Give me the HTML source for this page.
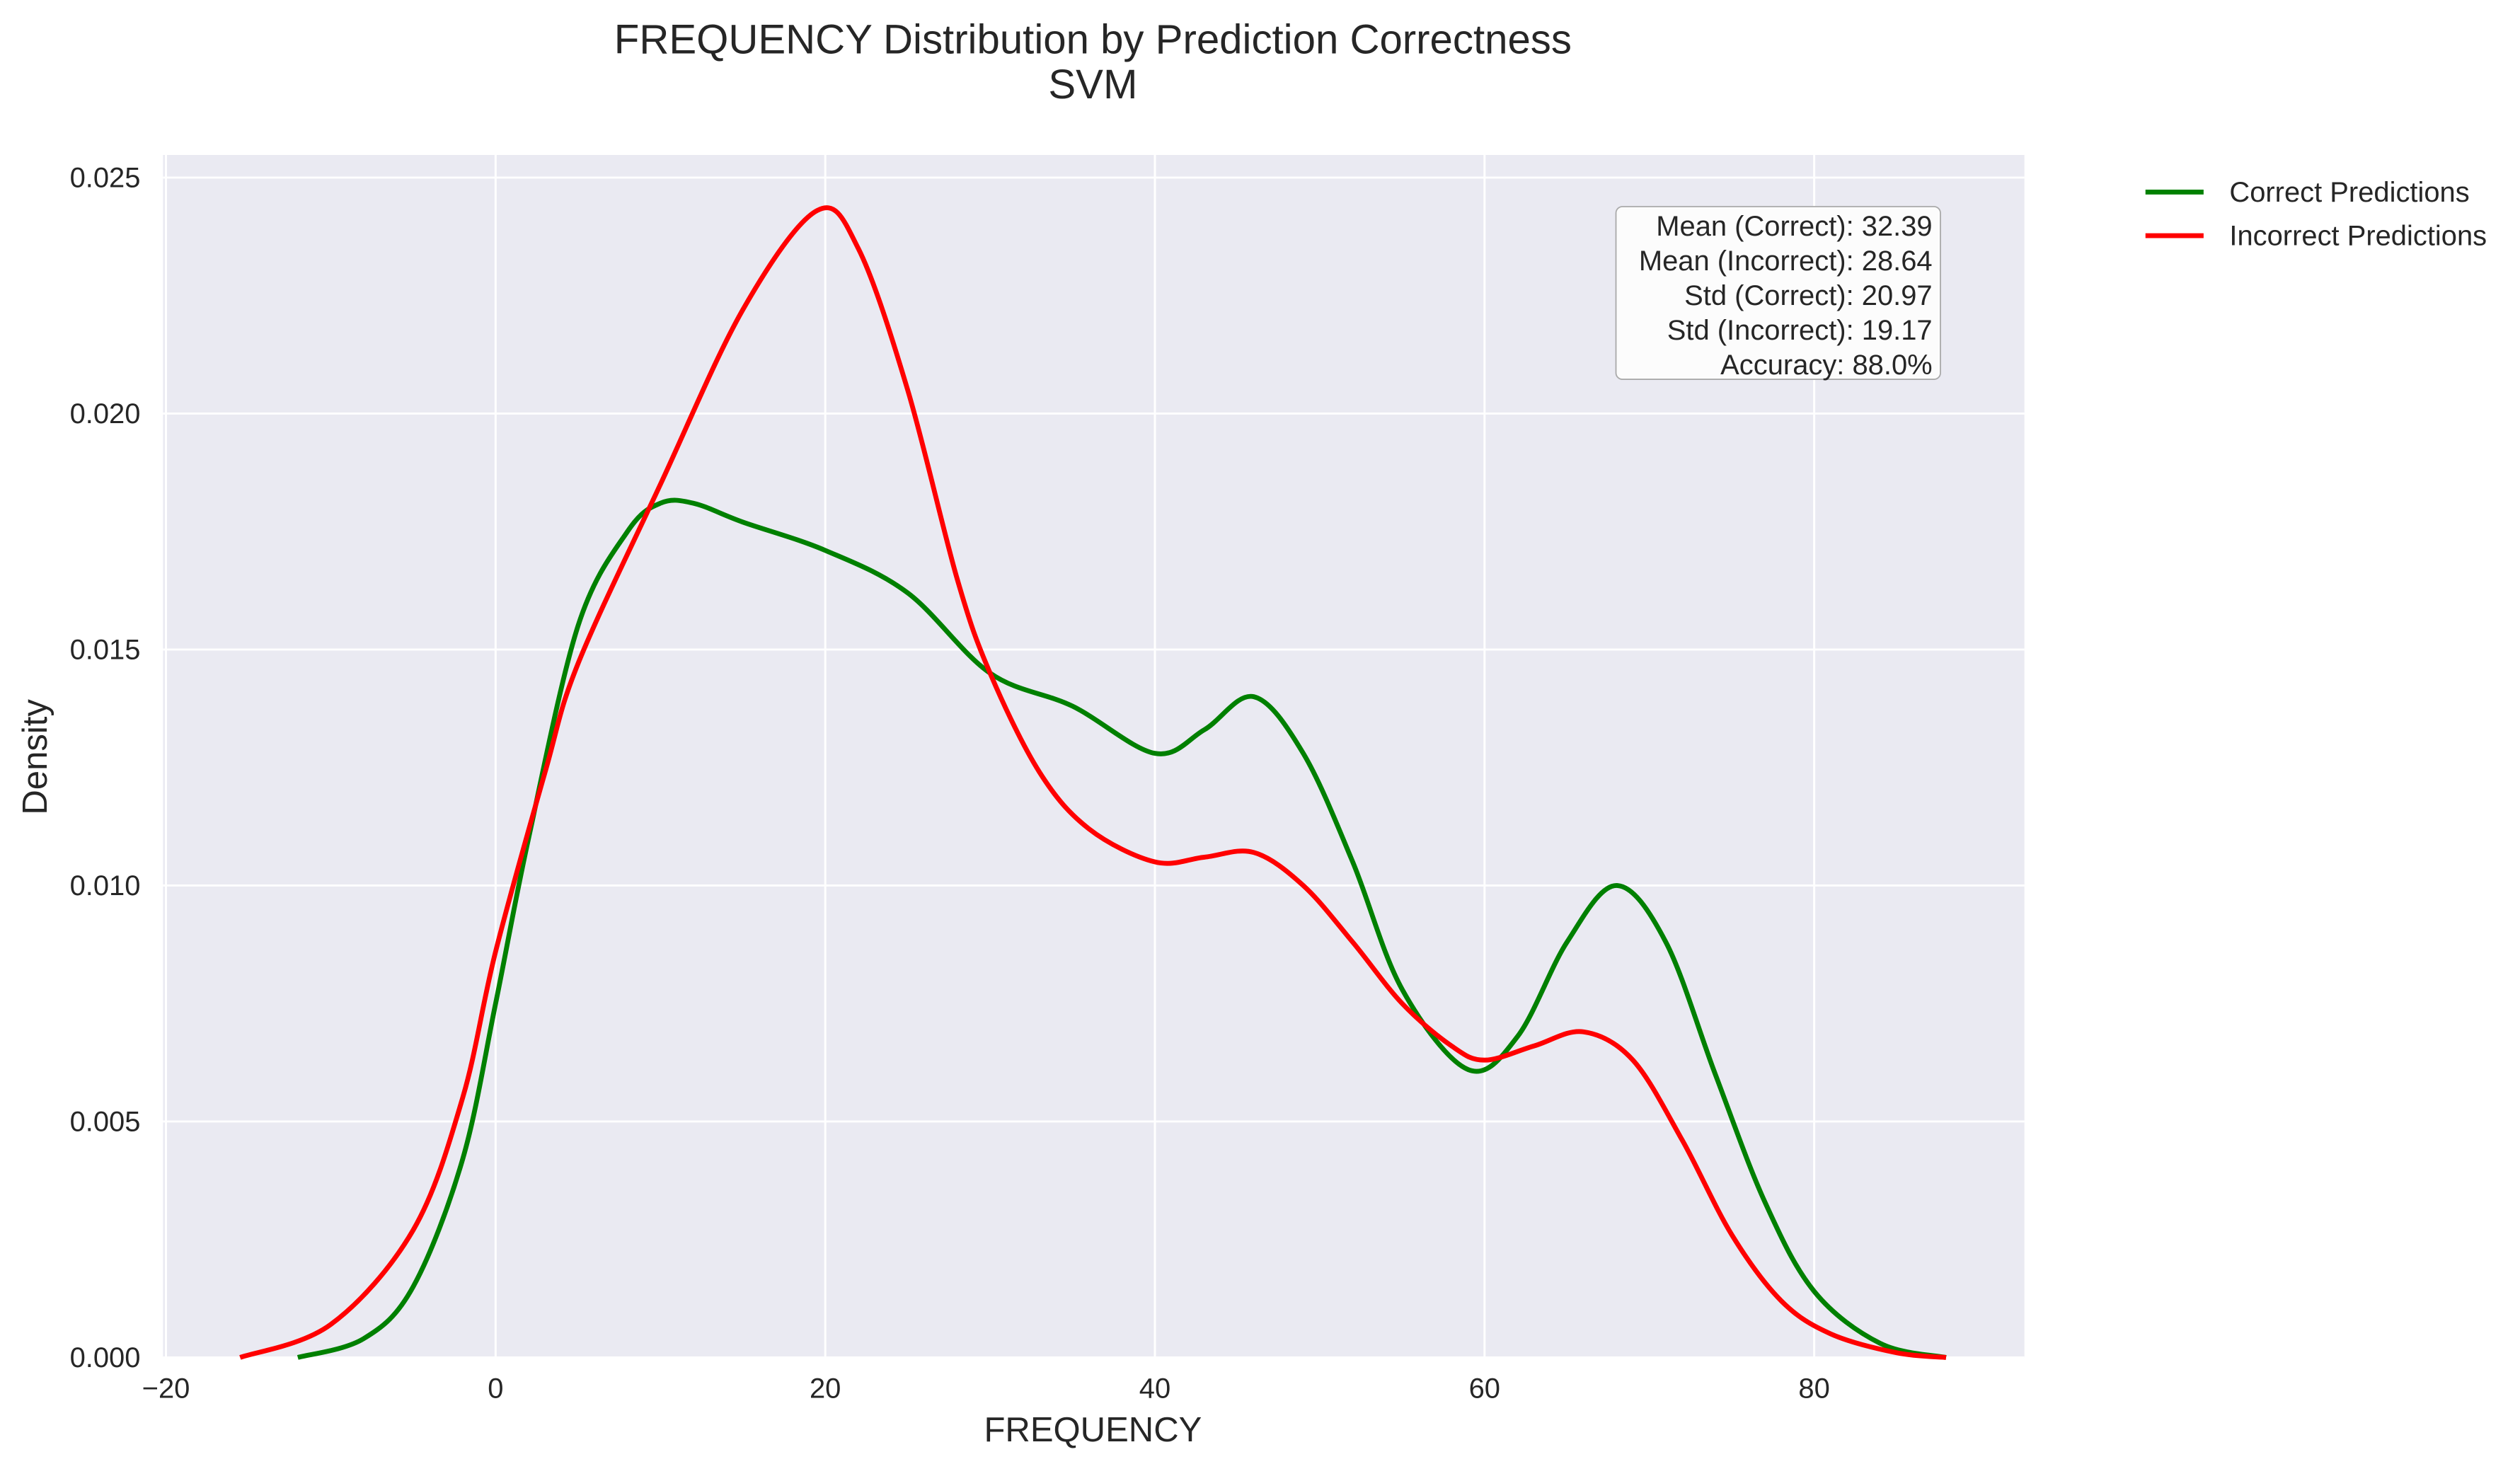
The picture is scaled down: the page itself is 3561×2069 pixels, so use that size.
<!DOCTYPE html>
<html><head><meta charset="utf-8"><style>
html,body{margin:0;padding:0;background:#fff;}
svg{display:block;font-family:"Liberation Sans",sans-serif;}
</style></head><body>
<svg id="chart" width="3561" height="2069" viewBox="0 0 1561 907" preserveAspectRatio="none" xmlns="http://www.w3.org/2000/svg">
<rect x="101" y="96" width="1153" height="745" fill="#eaeaf2"/>
<g id="grid"></g>
<g id="ticks"></g>
<g id="curves"></g>
<text x="677" y="33" font-size="25.5" text-anchor="middle" fill="#262626">FREQUENCY Distribution by Prediction Correctness</text>
<text x="677" y="61" font-size="25.5" text-anchor="middle" fill="#262626">SVM</text>
<text x="677" y="893" font-size="21.5" text-anchor="middle" fill="#262626">FREQUENCY</text>
<text transform="translate(29,469) rotate(-90)" font-size="21.5" text-anchor="middle" fill="#262626">Density</text>
<g>
<rect x="1001" y="128" width="201" height="107" rx="4" fill="#fcfcfc" stroke="#aaa" stroke-width="0.8"/>
<g font-size="17.5" text-anchor="end" fill="#262626">
<text x="1197" y="146">Mean (Correct): 32.39</text>
<text x="1197" y="167.5">Mean (Incorrect): 28.64</text>
<text x="1197" y="189">Std (Correct): 20.97</text>
<text x="1197" y="210.5">Std (Incorrect): 19.17</text>
<text x="1197" y="232">Accuracy: 88.0%</text>
</g></g>
<g>
<g><line x1="1329" y1="119" x2="1365" y2="119" stroke="#008000" stroke-width="3"/><text x="1381" y="125" font-size="17.5" fill="#262626">Correct Predictions</text></g>
<g><line x1="1329" y1="146" x2="1365" y2="146" stroke="#ff0000" stroke-width="3"/><text x="1381" y="152" font-size="17.5" fill="#262626">Incorrect Predictions</text></g>
</g>
</svg>
<script>
const xTicks = [-20, 0, 20, 40, 60, 80];
const yTicks = [0, 0.005, 0.010, 0.015, 0.020, 0.025];
const yTickLabels = ["0.000","0.005","0.010","0.015","0.020","0.025"];
const correctX = [-12,-8,-5,-2,0,2,5,8,10,12,15,20,25,30,35,40,43,46,49,52,55,59,62,65,68,71,74,77,80,84,88];
const correctY = [0,0.0004,0.0015,0.0042,0.0075,0.011,0.0155,0.0175,0.0181,0.0181,0.0177,0.0171,0.0162,0.0145,0.0138,0.0128,0.0133,0.0140,0.0128,0.0105,0.0078,0.0061,0.0068,0.0088,0.0100,0.0088,0.0060,0.0033,0.0014,0.0003,0];
const incorrectX = [-15.5,-10,-5,-2,0,3,5,10,15,19.5,22,25,28,30,33,36,40,43,46,49,52,55,58,60,63,66,69,72,75,78,81,85,88];
const incorrectY = [0,0.0007,0.0027,0.0055,0.0086,0.0124,0.0147,0.0185,0.0222,0.0243,0.0235,0.0205,0.0165,0.0145,0.0124,0.0112,0.0105,0.0106,0.0107,0.0100,0.0088,0.0075,0.0066,0.0063,0.0066,0.0069,0.0063,0.0046,0.0026,0.0012,0.0005,0.0001,0];
const NS = "http://www.w3.org/2000/svg";
const xs = v => 307 + (v - 0) * 10.21;
const ys = v => 841 - v * 29240;
const grid = document.getElementById('grid'), ticks = document.getElementById('ticks'), curves = document.getElementById('curves');
function mk(tag, attrs, parent){const e=document.createElementNS(NS,tag);for(const k in attrs)e.setAttribute(k,attrs[k]);parent.appendChild(e);return e;}
xTicks.forEach(t=>{
  const l=mk('line',{x1:xs(t),x2:xs(t),y1:96,y2:841,stroke:'#fff','stroke-width':1.3},grid);
  
  
  const tx=mk('text',{x:xs(t),y:866,'font-size':17.5,'text-anchor':'middle',fill:'#262626'},ticks);
  tx.textContent=(t<0?'\u2212':'')+Math.abs(t);
  
  
});
yTicks.forEach((t,i)=>{
  const l=mk('line',{x1:101,x2:1254,y1:ys(t),y2:ys(t),stroke:'#fff','stroke-width':1.3},grid);
  
  
  const tx=mk('text',{x:87,y:ys(t)+6,'font-size':17.5,'text-anchor':'end',fill:'#262626'},ticks);
  tx.textContent=yTickLabels[i];
  
  
});
function pathFor(X,Y){
  const p=X.map((x,i)=>[xs(x),ys(Y[i])]);
  let d='M'+p[0][0]+','+p[0][1];
  for(let i=0;i<p.length-1;i++){
    const p0=p[Math.max(0,i-1)],p1=p[i],p2=p[i+1],p3=p[Math.min(p.length-1,i+2)];
    const c1=[p1[0]+(p2[0]-p0[0])/6,p1[1]+(p2[1]-p0[1])/6];
    const c2=[p2[0]-(p3[0]-p1[0])/6,p2[1]-(p3[1]-p1[1])/6];
    d+=' C'+c1+' '+c2+' '+p2;
  }
  return d;
}
const g=mk('path',{d:pathFor(correctX,correctY),fill:'none',stroke:'#008000','stroke-width':3},curves);


const r=mk('path',{d:pathFor(incorrectX,incorrectY),fill:'none',stroke:'#ff0000','stroke-width':3},curves);


</script>
</body></html>
